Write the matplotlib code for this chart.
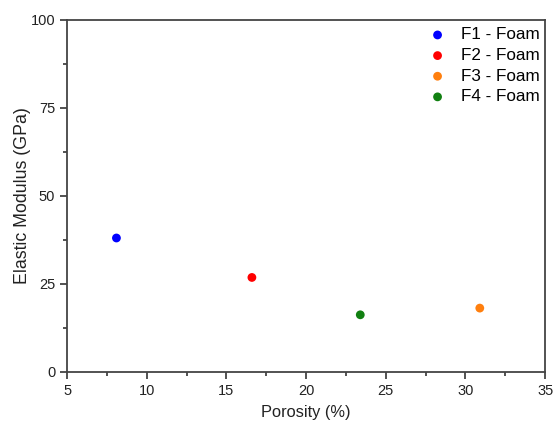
import matplotlib
matplotlib.use('Agg')
import matplotlib.pyplot as plt
from matplotlib.ticker import MultipleLocator

plt.rcParams['font.family'] = ['Liberation Sans', 'DejaVu Sans']

names = ['F1 - Foam', 'F2 - Foam', 'F3 - Foam', 'F4 - Foam']
porosity = [8.1, 16.6, 30.9, 23.4]
modulus = [38.0, 26.8, 18.1, 16.2]
colors = ['#0000ff', '#ff0000', '#ff7f0e', '#118011']

fig = plt.figure(figsize=(5.54, 4.25), dpi=100)
ax = fig.add_axes([0.121, 0.125, 0.863, 0.829])

for x, y, c, n in zip(porosity, modulus, colors, names):
	ax.scatter(x, y, s=40, color=c, label=n, zorder=3, edgecolors='none')

ax.set_xlim(5, 35)
ax.set_ylim(0, 100)
ax.xaxis.set_major_locator(MultipleLocator(5))
ax.xaxis.set_minor_locator(MultipleLocator(2.5))
ax.yaxis.set_major_locator(MultipleLocator(25))
ax.yaxis.set_minor_locator(MultipleLocator(12.5))
ax.tick_params(which='major', direction='out', length=5, width=1.2, labelsize=10.5, colors='#333333', labelcolor='#222222')
ax.tick_params(which='minor', direction='out', length=3, width=1.2, colors='#333333')
for s in ax.spines.values():
	s.set_linewidth(1.3)
	s.set_color('#444444')

ax.set_xlabel('Porosity (%)', fontsize=11.8, color='#222222', labelpad=5)
ax.set_ylabel('Elastic Modulus (GPa)', fontsize=12.8, color='#222222', labelpad=0)

leg = ax.legend(loc='upper right', frameon=False, fontsize=12.3, handletextpad=0.5,
	labelspacing=0.33, markerscale=1.0, borderaxespad=0.0, handlelength=1.8,
	bbox_to_anchor=(1.004, 0.997))

fig.savefig('out.png', dpi=100)
